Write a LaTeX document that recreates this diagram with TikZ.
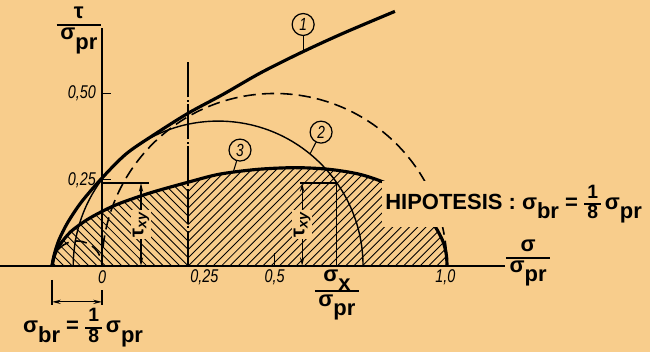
\documentclass[tikz,border=0pt]{standalone}
\usepackage{fontspec}
\setmainfont{Liberation Sans}
\newfontfamily\condfont[FakeStretch=0.78]{Liberation Sans}
\usetikzlibrary{arrows.meta,positioning}
\definecolor{paper}{RGB}{248,205,140}
\newcommand{\lowr}[1]{\raisebox{-0.8ex}{#1}}
\newcommand{\stk}[2]{{\renewcommand{\arraystretch}{0.8}\setlength{\arrayrulewidth}{1.1pt}%
  \begin{tabular}{@{\,}c@{\,}}#1\\\hline #2\end{tabular}}}
\newcommand{\crvone}{plot[smooth] coordinates {(-0.145,0) (-0.138,0.035) (-0.125,0.075)
  (-0.1,0.125) (-0.06,0.185) (0,0.255) (0.07,0.325) (0.15,0.38) (0.25,0.443)
  (0.35,0.497) (0.46,0.56) (0.58,0.62) (0.7,0.675) (0.849,0.738)}}
\newcommand{\crvthree}{plot[smooth] coordinates {(-0.145,0) (-0.138,0.03) (-0.122,0.062)
  (-0.09,0.1) (-0.045,0.133) (0,0.158) (0.05,0.181) (0.14,0.212) (0.25,0.243)
  (0.34,0.266) (0.45,0.28) (0.56,0.285) (0.66,0.28) (0.75,0.265) (0.83,0.237)
  (0.89,0.2) (0.93,0.158) (0.965,0.115) (0.988,0.072) (0.998,0.033) (1.0,0)}}

\begin{document}
\begin{tikzpicture}[
    x=6.9cm, y=6.9cm,
    font=\bfseries,
    >=Stealth,
    axis/.style={line width=1.1pt},
    envl/.style={line width=1.8pt, line join=round},
    circl/.style={line width=0.8pt},
    dashcirc/.style={line width=0.9pt, dash pattern=on 7pt off 3.5pt},
    dashdot/.style={line width=1.2pt, dash pattern=on 20pt off 1.5pt on 1pt off 1.5pt},
    hatch/.style={line width=0.5pt},
    guide/.style={line width=0.6pt},
    dim/.style={{Stealth[length=5pt,width=2.4pt]}-{Stealth[length=5pt,width=2.4pt]}, line width=0.6pt},
    tick/.style={font=\condfont\itshape\fontsize{10.5}{12}\selectfont, inner sep=1pt},
    num/.style={draw, circle, line width=0.7pt, minimum size=12.5pt, inner sep=0pt,
      font=\condfont\itshape\fontsize{10}{12}\selectfont},
    tauxy/.style={fill=paper, rotate=90, inner sep=1pt, font=\bfseries\fontsize{11.5}{12}\selectfont},
    lbl/.style={font=\bfseries\fontsize{12.5}{14}\selectfont, inner sep=0pt},
  ]
    % ===== Paper =====
    \fill[paper] (-0.2957,-0.2493) rectangle (1.5884,0.7710);
    \useasboundingbox (-0.2957,-0.2493) rectangle (1.5884,0.7710);

    % ===== Hatched region under curve 3 =====
    \begin{scope}
      \clip \crvthree -- cycle;
      \clip (-0.2,0) rectangle (0.25,0.4);
      \foreach \i in {-18,...,12}
        \draw[hatch] (0.25+\i*0.024,0) -- ++(-0.32,0.32);
    \end{scope}
    \begin{scope}
      \clip \crvthree -- cycle;
      \clip (0.25,0) rectangle (1.1,0.4);
      \foreach \i in {-14,...,32}
        \draw[hatch] (0.25+\i*0.024,0) -- ++(0.32,0.32);
    \end{scope}

    % ===== Mohr circles =====
    \draw[dashcirc] (0,0) arc[start angle=180, end angle=0, radius=0.5];
    \draw[dashcirc] (-0.145,0) arc[start angle=180, end angle=0, radius=0.0725];
    \draw[circl] (-0.0834,0) arc[start angle=180, end angle=0, radius=0.42];

    % ===== Envelopes =====
    \draw[envl] \crvone;
    \draw[envl] \crvthree;

    % ===== Axes =====
    \coordinate (o) at (0,0);
    \coordinate (xend) at (1.168,0);
    \coordinate (yend) at (0,0.69);
    \draw[axis] (-0.2957,0) -- (xend);
    \draw[axis] (o) -- (yend);
    \draw[dashdot] (0.25,0) -- (0.25,0.591);
    \draw[guide] (0,0.25) -- ++(0.025,0);
    \draw[guide] (0,0.5) -- ++(0.025,0);
    \draw[guide] (0.5,0) -- ++(0,0.038);

    \node[tick, anchor=east] (t50) at (-0.012,0.5) {0,50};
    \node[tick, anchor=east] (t25) at (-0.012,0.25) {0,25};
    \node[tick] (s0) at (0,-0.032) {0};
    \node[tick, anchor=west] (s25) at (0.25,-0.032) {0,25};
    \node[tick] (s50) at (0.5,-0.032) {0,5};
    \node[tick] (s100) at (0.995,-0.032) {1,0};

    \node[lbl] (ylab) at (-0.067,0.687) {\stk{τ}{σ\lowr{pr}}};
    \node[lbl] (xlab) at (1.235,0.012) {\stk{σ}{σ\lowr{pr}}};
    \node[lbl] (sxlab) at (0.681,-0.08) {\stk{σ\lowr{x}}{σ\lowr{pr}}};

    % ===== tau_xy markers =====
    \coordinate (la) at (0.113,0);
    \coordinate (lb) at (0.113,0.2406);
    \draw[guide] (0,0.2406) -- (0.137,0.2406);
    \draw[dim] (la) -- node[tauxy] {τ\textsubscript{\itshape xy}} (lb);

    \coordinate (ra) at (0.58,0);
    \coordinate (rb) at (0.58,0.2406);
    \coordinate (sx) at (0.681,0);
    \coordinate (sxt) at (0.681,0.2406);
    \draw[guide] (0.574,0.2406) -- (sxt) -- (sx);
    \draw[dim] (ra) -- node[tauxy] {τ\textsubscript{\itshape xy}} (rb);

    % ===== sigma_br dimension =====
    \coordinate (bl) at (-0.145,-0.104);
    \coordinate (br) at (0,-0.104);
    \draw[guide] (-0.145,-0.04) -- (-0.145,-0.113);
    \draw[guide] (0,-0.07) -- (0,-0.113);
    \draw[dim] (bl) -- (br);
    \node[lbl, anchor=base] (sbr) at (-0.055,-0.194)
      {σ\lowr{br} = {\fontsize{11}{12}\selectfont\stk{1}{8}}\,σ\lowr{pr}};

    % ===== Curve numbers =====
    \coordinate (p1) at (0.583,0.622);
    \coordinate (p2) at (0.603,0.325);
    \coordinate (p3) at (0.38,0.271);
    \node[num] (n1) at (0.583,0.70) {1};
    \node[num] (n2) at (0.635,0.388) {2};
    \node[num] (n3) at (0.40,0.336) {3};
    \draw[guide] (n1) -- (p1);
    \draw[guide] (n2) -- (p2);
    \draw[guide] (n3) -- (p3);

    % ===== Hypothesis =====
    \node[lbl, fill=paper, anchor=base west, inner sep=2pt] (hyp) at (0.81,0.165)
      {HIPOTESIS : σ\lowr{br} = {\fontsize{11}{12}\selectfont\stk{1}{8}}\,σ\lowr{pr}};
\end{tikzpicture}
\end{document}
